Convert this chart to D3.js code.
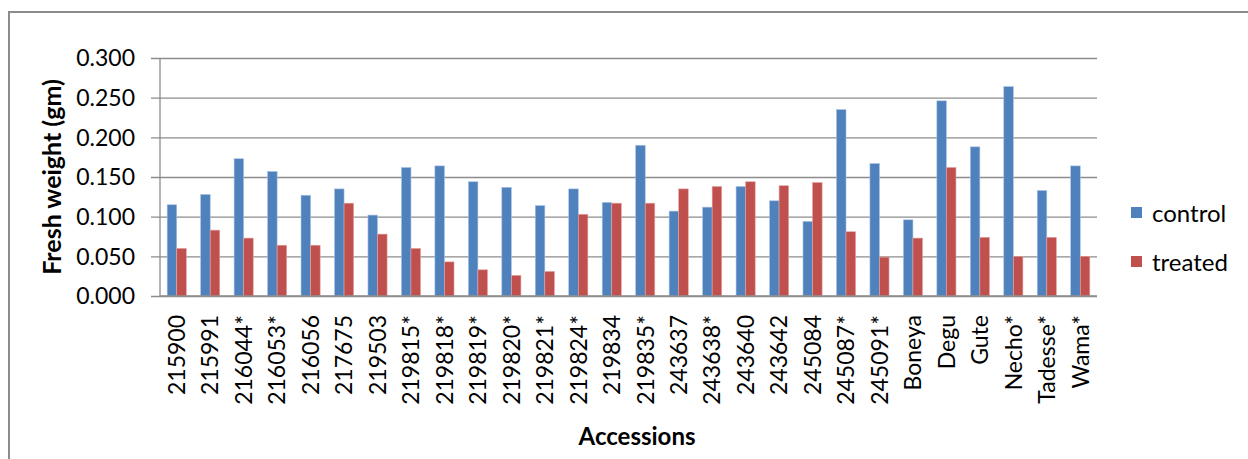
<!DOCTYPE html>
<html>
<head>
<meta charset="utf-8">
<script src="https://cdn.jsdelivr.net/npm/d3@7"></script>
<style>
  html, body { margin: 0; padding: 0; background: #fff; }
  svg { display: block; }
  text { font-family: Lato, "Open Sans", sans-serif; fill: #000; }
</style>
</head>
<body>
<svg id="chart" width="1248" height="459"></svg>
<script>
// Accessions on the x axis
const categories = [
  "215900", "215991", "216044*", "216053*", "216056", "217675", "219503",
  "219815*", "219818*", "219819*", "219820*", "219821*", "219824*", "219834",
  "219835*", "243637", "243638*", "243640", "243642", "245084", "245087*",
  "245091*", "Boneya", "Degu", "Gute", "Necho*", "Tadesse*", "Wama*"
];

// Fresh weight (gm) per accession
const control = [
  0.115, 0.128, 0.173, 0.157, 0.127, 0.135, 0.102,
  0.162, 0.164, 0.144, 0.137, 0.114, 0.135, 0.118,
  0.190, 0.107, 0.112, 0.138, 0.120, 0.094, 0.235,
  0.167, 0.096, 0.246, 0.188, 0.264, 0.133, 0.164
];
const treated = [
  0.060, 0.083, 0.073, 0.064, 0.064, 0.117, 0.078,
  0.060, 0.043, 0.033, 0.026, 0.031, 0.103, 0.117,
  0.117, 0.135, 0.138, 0.144, 0.139, 0.143, 0.081,
  0.049, 0.073, 0.162, 0.074, 0.050, 0.074, 0.050
];

const seriesNames = ["control", "treated"];
const seriesColors = ["#4F81BD", "#C0504D"];
const yTicks = [0, 0.05, 0.10, 0.15, 0.20, 0.25, 0.30];

const svg = d3.select("#chart");

// Chart frame
svg.append("rect")
  .attr("x", 9).attr("y", 12)
  .attr("width", 1260).attr("height", 470)
  .attr("fill", "none")
  .attr("stroke", "#8c8c8c")
  .attr("stroke-width", 2);

const plot = { left: 160, right: 1097, top: 58, bottom: 296 };

const x = d3.scaleBand()
  .domain(categories)
  .range([plot.left, plot.right])
  .paddingInner(0)
  .paddingOuter(0);

const y = d3.scaleLinear()
  .domain([0, 0.3])
  .range([plot.bottom, plot.top]);

// Each group is two bars with a 150% gap between groups
const barW = x.bandwidth() / 3.5;
const xs = d3.scaleBand()
  .domain(seriesNames)
  .range([0, barW * 2]);

// Gridlines plus outside tick marks
const yAxis = d3.axisLeft(y)
  .tickValues(yTicks)
  .tickSize(-(plot.right - plot.left))
  .tickFormat(d3.format(".3f"));

const gy = svg.append("g")
  .attr("transform", `translate(${plot.left},0)`)
  .call(yAxis);
gy.select(".domain").remove();
gy.selectAll(".tick line")
  .attr("x1", -9)
  .attr("stroke", "#8c8c8c")
  .attr("stroke-width", 1.3);
gy.selectAll(".tick text")
  .attr("x", -25)
  .attr("dy", "0.34em")
  .style("font-size", "23px")
  .style("font-family", "Lato, sans-serif")
  .attr("fill", "#000");

// Vertical axis line
svg.append("line")
  .attr("x1", plot.left).attr("x2", plot.left)
  .attr("y1", plot.top).attr("y2", plot.bottom)
  .attr("stroke", "#8c8c8c")
  .attr("stroke-width", 1.3);

// Bars
const groups = svg.append("g")
  .selectAll("g")
  .data(categories.map((c, i) => ({ cat: c, vals: [control[i], treated[i]] })))
  .join("g")
  .attr("transform", d => `translate(${x(d.cat) + (x.bandwidth() - barW * 2) / 2},0)`);

groups.selectAll("rect")
  .data(d => d.vals.map((v, k) => ({ key: seriesNames[k], v, k })))
  .join("rect")
  .attr("x", d => xs(d.key))
  .attr("width", xs.bandwidth())
  .attr("y", d => y(d.v))
  .attr("height", d => y(0) - y(d.v))
  .attr("fill", d => seriesColors[d.k])
  .attr("stroke", d => d.k === 0 ? "#a9c3e3" : "#e3a3a1")
  .attr("stroke-width", 0.6);

// Horizontal axis line
svg.append("line")
  .attr("x1", plot.left).attr("x2", plot.right)
  .attr("y1", plot.bottom).attr("y2", plot.bottom)
  .attr("stroke", "#8c8c8c")
  .attr("stroke-width", 1.3);

// Rotated category labels
const xAxis = d3.axisBottom(x).tickSize(0).tickPadding(0);
const gx = svg.append("g")
  .attr("transform", `translate(0,${plot.bottom})`)
  .call(xAxis);
gx.select(".domain").remove();
gx.selectAll(".tick text")
  .attr("transform", "rotate(-90)")
  .attr("x", -19)
  .attr("y", 0)
  .attr("dy", "0.36em")
  .attr("text-anchor", "end")
  .style("font-size", "23px")
  .style("font-family", "Lato, sans-serif")
  .attr("fill", "#000");

// Axis titles
svg.append("text")
  .attr("transform", "translate(61,177) rotate(-90)")
  .attr("text-anchor", "middle")
  .style("font-size", "25px")
  .style("font-weight", "bold")
  .text("Fresh weight (gm)");

svg.append("text")
  .attr("x", 637)
  .attr("y", 445)
  .attr("text-anchor", "middle")
  .style("font-size", "24px")
  .style("font-weight", "bold")
  .text("Accessions");

// Legend
const legend = svg.append("g");
seriesNames.forEach((name, k) => {
  const ly = 214 + k * 49;
  legend.append("rect")
    .attr("x", 1131).attr("y", ly - 7)
    .attr("width", 11).attr("height", 11)
    .attr("fill", seriesColors[k]);
  legend.append("text")
    .attr("x", 1152).attr("y", ly)
    .attr("dy", "0.35em")
    .style("font-size", "24px")
    .text(name);
});
</script>
</body>
</html>
